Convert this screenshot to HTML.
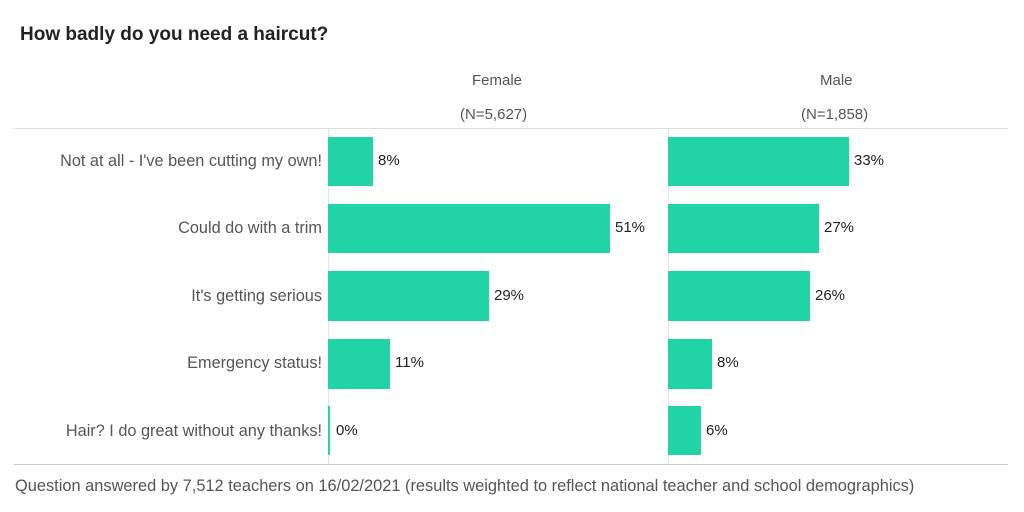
<!DOCTYPE html><html><head><style>
body{margin:0;width:1024px;height:512px;background:#fff;font-family:"Liberation Sans",sans-serif;position:relative;overflow:hidden}
div{position:absolute}
.t{font-size:15px;color:#555;white-space:nowrap}
.b{background:#20d4a6}
.v{font-size:15px;color:#222}
.l{right:702px;text-align:right;font-size:16.3px}
</style></head><body>
<div style="left:20px;top:24px;font-size:19px;font-weight:bold;color:#222">How badly do you need a haircut?</div>
<div class="t" style="left:472px;top:72px">Female</div>
<div class="t" style="left:460px;top:106px">(N=5,627)</div>
<div class="t" style="left:820px;top:72px">Male</div>
<div class="t" style="left:801px;top:106px">(N=1,858)</div>
<div style="left:14px;top:128px;width:994px;height:1px;background:#ddd"></div>
<div style="left:14px;top:464px;width:994px;height:1px;background:#ccc"></div>
<div style="left:328px;top:128px;width:1px;height:336px;background:#e4e4e4"></div>
<div style="left:668px;top:128px;width:1px;height:336px;background:#e4e4e4"></div>

<div class="t l" style="top:152px">Not at all - I've been cutting my own!</div>
<div class="t l" style="top:219px">Could do with a trim</div>
<div class="t l" style="top:287px">It's getting serious</div>
<div class="t l" style="top:354px">Emergency status!</div>
<div class="t l" style="top:422px">Hair? I do great without any thanks!</div>

<div class="b" style="left:328px;top:137px;width:45px;height:49px"></div><div class="v" style="left:378px;top:152px">8%</div>
<div class="b" style="left:328px;top:204px;width:282px;height:49px"></div><div class="v" style="left:615px;top:219px">51%</div>
<div class="b" style="left:328px;top:271px;width:161px;height:50px"></div><div class="v" style="left:494px;top:287px">29%</div>
<div class="b" style="left:328px;top:339px;width:62px;height:50px"></div><div class="v" style="left:395px;top:354px">11%</div>
<div class="b" style="left:328px;top:406px;width:2px;height:49px"></div><div class="v" style="left:336px;top:422px">0%</div>

<div class="b" style="left:668px;top:137px;width:181px;height:49px"></div><div class="v" style="left:854px;top:152px">33%</div>
<div class="b" style="left:668px;top:204px;width:151px;height:49px"></div><div class="v" style="left:824px;top:219px">27%</div>
<div class="b" style="left:668px;top:271px;width:142px;height:50px"></div><div class="v" style="left:815px;top:287px">26%</div>
<div class="b" style="left:668px;top:339px;width:44px;height:50px"></div><div class="v" style="left:717px;top:354px">8%</div>
<div class="b" style="left:668px;top:406px;width:33px;height:49px"></div><div class="v" style="left:706px;top:422px">6%</div>

<div class="t" style="left:15px;top:477px;font-size:16.4px">Question answered by 7,512 teachers on 16/02/2021 (results weighted to reflect national teacher and school demographics)</div>
</body></html>
